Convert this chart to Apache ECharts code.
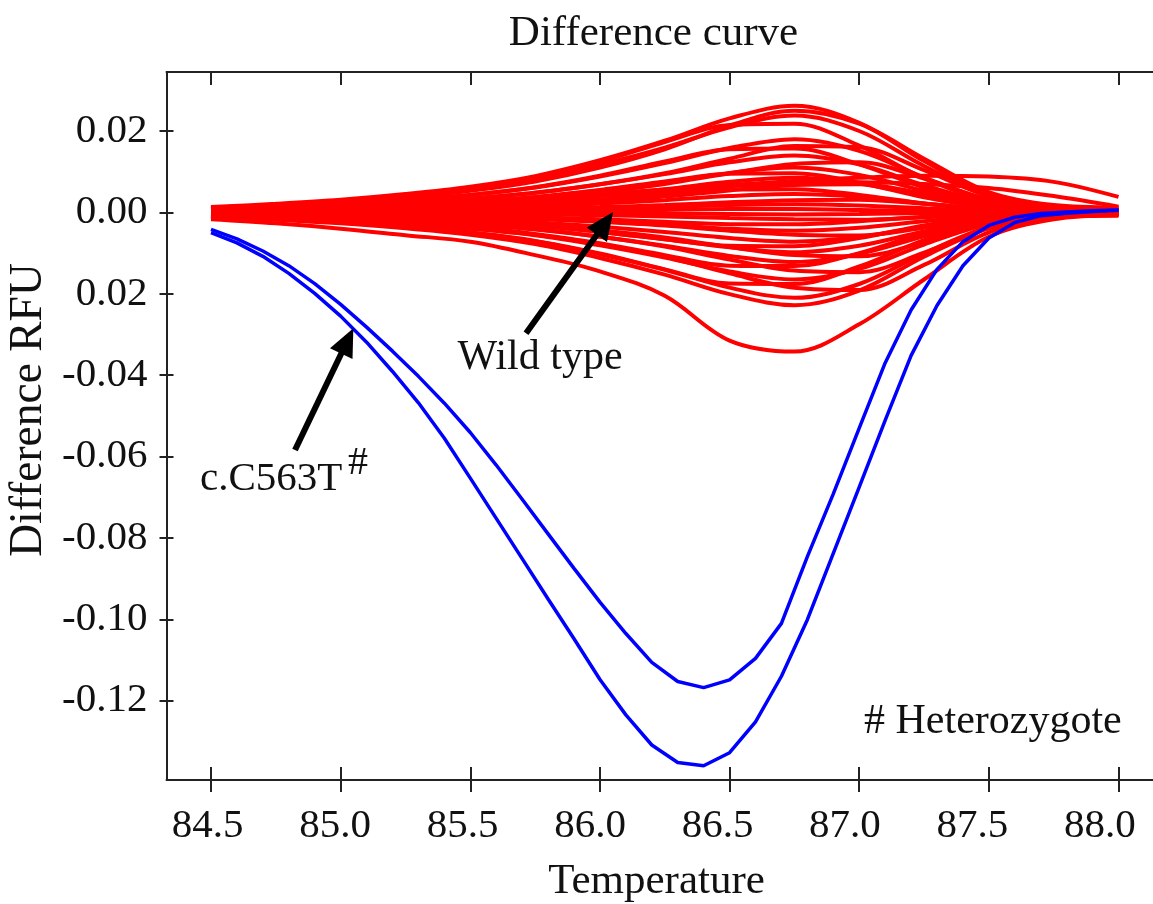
<!DOCTYPE html>
<html>
<head>
<meta charset="utf-8">
<title>Difference curve</title>
<script src="https://cdn.jsdelivr.net/npm/echarts@6/dist/echarts.min.js"></script>
<style>
  html, body { margin: 0; padding: 0; background: #ffffff; }
  #chart { width: 1153px; height: 904px; }
</style>
</head>
<body>
<div id="chart"></div>
<script>
// HRM difference plot: wild-type traces (red) and the c.C563T heterozygote traces (blue).

// Temperatures (°C) at which the two mutant traces were sampled
const mutantTemps = [84.5, 84.6, 84.7, 84.8, 84.9, 85.0, 85.1, 85.2, 85.3, 85.4, 85.5, 85.6,
  85.7, 85.8, 85.9, 86.0, 86.1, 86.2, 86.3, 86.4, 86.5, 86.6, 86.7, 86.8,
  86.9, 87.0, 87.1, 87.2, 87.3, 87.4, 87.5, 87.6, 87.7, 87.8, 87.9, 88.0];

// c.C563T heterozygote, shallower trace
const mutantUpper = [-0.0042, -0.0065, -0.0095, -0.0131, -0.0175, -0.0226, -0.0282, -0.0341, -0.0403, -0.0469, -0.0541, -0.0621,
  -0.0705, -0.0790, -0.0875, -0.0958, -0.1035, -0.1106, -0.1153, -0.1168, -0.1149, -0.1096, -0.1010, -0.0846,
  -0.0692, -0.0530, -0.0370, -0.0240, -0.0140, -0.0072, -0.0032, -0.0012, -0.0003, 0.0001, 0.0004, 0.0006];

// c.C563T heterozygote, deeper trace
const mutantLower = [-0.0050, -0.0075, -0.0108, -0.0150, -0.0199, -0.0255, -0.0319, -0.0391, -0.0468, -0.0555, -0.0653, -0.0752,
  -0.0851, -0.0950, -0.1048, -0.1148, -0.1235, -0.1309, -0.1352, -0.1360, -0.1328, -0.1252, -0.1140, -0.1001,
  -0.0838, -0.0675, -0.0511, -0.0352, -0.0229, -0.0131, -0.0063, -0.0025, -0.0008, -0.0002, 0.0002, 0.0005];

// Temperatures (°C) at which the wild-type traces were sampled
const wildTemps = [84.5, 84.75, 85.0, 85.25, 85.5, 85.75, 86.0, 86.25, 86.5, 86.75, 87.0, 87.25, 87.5, 87.75, 88.0];

// Wild-type difference RFU, one row per sample
const wildTypeCurves = [
  [0.0013, 0.0021, 0.0031, 0.0045, 0.0063, 0.0089, 0.0128, 0.0176, 0.0231, 0.0262, 0.0220, 0.0126, 0.0045, 0.0013, 0.0005],
  [0.0011, 0.0018, 0.0026, 0.0037, 0.0053, 0.0076, 0.0110, 0.0155, 0.0213, 0.0250, 0.0218, 0.0132, 0.0050, 0.0018, 0.0012],
  [0.0012, 0.0019, 0.0029, 0.0040, 0.0057, 0.0081, 0.0117, 0.0159, 0.0209, 0.0238, 0.0200, 0.0114, 0.0040, 0.0012, 0.0005],
  [0.0011, 0.0018, 0.0029, 0.0042, 0.0060, 0.0087, 0.0124, 0.0173, 0.0215, 0.0218, 0.0164, 0.0084, 0.0027, 0.0007, 0.0002],
  [0.0009, 0.0014, 0.0022, 0.0031, 0.0043, 0.0061, 0.0088, 0.0121, 0.0158, 0.0180, 0.0151, 0.0086, 0.0031, 0.0009, 0.0004],
  [0.0007, 0.0012, 0.0017, 0.0024, 0.0034, 0.0048, 0.0069, 0.0096, 0.0132, 0.0163, 0.0160, 0.0104, 0.0040, 0.0014, 0.0010],
  [0.0008, 0.0013, 0.0021, 0.0030, 0.0043, 0.0062, 0.0090, 0.0125, 0.0155, 0.0157, 0.0118, 0.0061, 0.0019, 0.0005, 0.0002],
  [0.0007, 0.0011, 0.0017, 0.0024, 0.0034, 0.0048, 0.0069, 0.0094, 0.0123, 0.0140, 0.0118, 0.0067, 0.0024, 0.0007, 0.0003],
  [0.0005, 0.0009, 0.0013, 0.0018, 0.0025, 0.0035, 0.0050, 0.0070, 0.0096, 0.0119, 0.0123, 0.0083, 0.0031, 0.0009, 0.0003],
  [0.0006, 0.0009, 0.0013, 0.0019, 0.0026, 0.0037, 0.0054, 0.0074, 0.0097, 0.0110, 0.0092, 0.0053, 0.0019, 0.0006, 0.0002],
  [0.0005, 0.0008, 0.0013, 0.0019, 0.0026, 0.0038, 0.0055, 0.0076, 0.0095, 0.0096, 0.0073, 0.0037, 0.0012, 0.0003, 0.0001],
  [0.0008, 0.0011, 0.0015, 0.0020, 0.0027, 0.0035, 0.0045, 0.0056, 0.0067, 0.0077, 0.0085, 0.0090, 0.0088, 0.0075, 0.0038],
  [0.0004, 0.0007, 0.0010, 0.0014, 0.0020, 0.0029, 0.0042, 0.0057, 0.0075, 0.0085, 0.0071, 0.0041, 0.0014, 0.0004, 0.0001],
  [0.0006, 0.0009, 0.0012, 0.0016, 0.0022, 0.0030, 0.0040, 0.0052, 0.0064, 0.0072, 0.0074, 0.0070, 0.0060, 0.0040, 0.0014],
  [0.0003, 0.0005, 0.0007, 0.0010, 0.0014, 0.0020, 0.0028, 0.0039, 0.0054, 0.0067, 0.0069, 0.0046, 0.0018, 0.0005, 0.0001],
  [0.0003, 0.0005, 0.0008, 0.0011, 0.0016, 0.0023, 0.0032, 0.0045, 0.0056, 0.0057, 0.0043, 0.0022, 0.0007, 0.0002, 0.0000],
  [0.0002, 0.0004, 0.0005, 0.0008, 0.0011, 0.0015, 0.0022, 0.0030, 0.0040, 0.0045, 0.0038, 0.0022, 0.0008, 0.0002, 0.0001],
  [0.0001, 0.0002, 0.0003, 0.0004, 0.0006, 0.0009, 0.0013, 0.0018, 0.0025, 0.0030, 0.0031, 0.0021, 0.0008, 0.0002, 0.0001],
  [0.0001, 0.0002, 0.0002, 0.0003, 0.0005, 0.0007, 0.0010, 0.0013, 0.0018, 0.0020, 0.0017, 0.0010, 0.0003, 0.0001, 0.0000],
  [0.0000, 0.0001, 0.0001, 0.0002, 0.0002, 0.0003, 0.0004, 0.0006, 0.0008, 0.0008, 0.0006, 0.0003, 0.0001, 0.0000, 0.0000],
  [0.0000, 0.0000, -0.0001, -0.0001, -0.0001, -0.0002, -0.0002, -0.0003, -0.0004, -0.0005, -0.0004, -0.0002, -0.0001, 0.0000, 0.0000],
  [-0.0001, -0.0001, -0.0002, -0.0003, -0.0004, -0.0005, -0.0007, -0.0010, -0.0014, -0.0017, -0.0018, -0.0012, -0.0005, -0.0001, 0.0000],
  [-0.0002, -0.0002, -0.0004, -0.0006, -0.0008, -0.0012, -0.0017, -0.0023, -0.0029, -0.0029, -0.0022, -0.0011, -0.0004, -0.0001, 0.0000],
  [-0.0002, -0.0004, -0.0005, -0.0008, -0.0011, -0.0015, -0.0022, -0.0030, -0.0040, -0.0045, -0.0038, -0.0022, -0.0008, -0.0002, -0.0001],
  [-0.0002, -0.0004, -0.0006, -0.0008, -0.0012, -0.0016, -0.0023, -0.0032, -0.0045, -0.0055, -0.0057, -0.0038, -0.0015, -0.0004, -0.0001],
  [-0.0004, -0.0006, -0.0009, -0.0012, -0.0017, -0.0024, -0.0035, -0.0048, -0.0063, -0.0072, -0.0060, -0.0035, -0.0012, -0.0004, -0.0001],
  [-0.0004, -0.0007, -0.0011, -0.0016, -0.0023, -0.0033, -0.0048, -0.0066, -0.0082, -0.0083, -0.0063, -0.0032, -0.0010, -0.0003, -0.0001],
  [-0.0005, -0.0008, -0.0012, -0.0017, -0.0024, -0.0033, -0.0048, -0.0066, -0.0086, -0.0098, -0.0082, -0.0047, -0.0017, -0.0005, -0.0002],
  [-0.0004, -0.0008, -0.0011, -0.0015, -0.0022, -0.0031, -0.0044, -0.0062, -0.0085, -0.0105, -0.0108, -0.0073, -0.0028, -0.0008, -0.0002],
  [-0.0006, -0.0010, -0.0015, -0.0021, -0.0029, -0.0041, -0.0060, -0.0082, -0.0107, -0.0122, -0.0102, -0.0059, -0.0021, -0.0006, -0.0002],
  [-0.0007, -0.0011, -0.0018, -0.0026, -0.0036, -0.0053, -0.0076, -0.0105, -0.0131, -0.0132, -0.0100, -0.0051, -0.0016, -0.0004, -0.0001],
  [-0.0006, -0.0011, -0.0015, -0.0021, -0.0030, -0.0042, -0.0060, -0.0084, -0.0116, -0.0143, -0.0147, -0.0099, -0.0038, -0.0011, -0.0003],
  [-0.0008, -0.0013, -0.0020, -0.0028, -0.0040, -0.0056, -0.0081, -0.0111, -0.0145, -0.0165, -0.0139, -0.0079, -0.0028, -0.0008, -0.0003],
  [-0.0009, -0.0014, -0.0023, -0.0034, -0.0049, -0.0070, -0.0101, -0.0140, -0.0175, -0.0176, -0.0133, -0.0068, -0.0022, -0.0005, -0.0002],
  [-0.0008, -0.0014, -0.0020, -0.0027, -0.0039, -0.0055, -0.0078, -0.0109, -0.0150, -0.0185, -0.0191, -0.0129, -0.0049, -0.0014, -0.0006],
  [-0.0011, -0.0017, -0.0025, -0.0036, -0.0050, -0.0071, -0.0103, -0.0141, -0.0185, -0.0210, -0.0176, -0.0101, -0.0036, -0.0011, -0.0008],
  [-0.0011, -0.0018, -0.0027, -0.0039, -0.0055, -0.0078, -0.0112, -0.0153, -0.0201, -0.0228, -0.0192, -0.0109, -0.0039, -0.0011, -0.0005],
  [-0.0017, -0.0027, -0.0040, -0.0056, -0.0072, -0.0105, -0.0145, -0.0205, -0.0315, -0.0342, -0.0275, -0.0165, -0.0060, -0.0017, -0.0005]
];

// Axis ticks and their printed labels
const xTicks = [84.5, 85.0, 85.5, 86.0, 86.5, 87.0, 87.5, 88.0];
const xTickLabels = ['84.5', '85.0', '85.5', '86.0', '86.5', '87.0', '87.5', '88.0'];
const yTicks = [0.02, 0.00, -0.02, -0.04, -0.06, -0.08, -0.10, -0.12];
const yTickLabels = ['0.02', '0.00', '0.02', '-0.04', '-0.06', '-0.08', '-0.10', '-0.12'];

// Annotation arrows: [from, to] in (temperature, RFU)
const wildTypeArrow = [[85.715, -0.0297], [86.051, 0.0001]];
const mutantArrow = [[84.824, -0.0584], [85.049, -0.0285]];

// ---- layout & styling ----
const FONT = "'Liberation Serif', 'Times New Roman', 'DejaVu Serif', serif";
const AXIS_COLOR = '#222222';
const TEXT_COLOR = '#111111';
const X_RANGE = [84.3284, 88.133];
const Y_RANGE = [-0.1395, 0.0345];
// tick labels sit on a slightly narrower spacing than the ticks themselves
const X_LABEL_RANGE = [84.339, 88.208];

function labelFor(ticks, labels) {
  return function (value) {
    const i = ticks.findIndex(function (t) { return Math.abs(t - value) < 1e-9; });
    return i >= 0 ? labels[i] : '';
  };
}

const axisLineStyle = { color: AXIS_COLOR, width: 2 };

const chart = echarts.init(document.getElementById('chart'), null, { renderer: 'canvas' });

const series = [];
wildTypeCurves.forEach(function (curve, k) {
  series.push({
    name: 'Wild type ' + (k + 1),
    type: 'line',
    xAxisIndex: 0,
    yAxisIndex: 0,
    data: wildTemps.map(function (t, i) { return [t, curve[i]]; }),
    smooth: 0.35,
    showSymbol: false,
    symbol: 'none',
    silent: true,
    z: 2,
    lineStyle: { color: '#ff0000', width: 4 }
  });
});
[mutantUpper, mutantLower].forEach(function (curve, k) {
  series.push({
    name: 'c.C563T ' + (k + 1),
    type: 'line',
    xAxisIndex: 0,
    yAxisIndex: 0,
    data: mutantTemps.map(function (t, i) { return [t, curve[i]]; }),
    smooth: false,
    showSymbol: false,
    symbol: 'none',
    silent: true,
    z: 3,
    lineStyle: { color: '#0000ff', width: 3.5 }
  });
});

chart.setOption({
  animation: false,
  backgroundColor: '#ffffff',
  grid: {
    left: 166.5, top: 72, right: 0, bottom: 124,
    containLabel: false,
    outerBoundsMode: 'none'
  },
  xAxis: [
    { // bottom frame line with inward ticks
      type: 'value', position: 'bottom', min: X_RANGE[0], max: X_RANGE[1],
      axisLine: { show: true, onZero: false, lineStyle: axisLineStyle },
      axisTick: { show: true, inside: true, length: 13, customValues: xTicks, lineStyle: axisLineStyle },
      axisLabel: { show: false },
      splitLine: { show: false }
    },
    { // outward half of the crossing ticks
      type: 'value', position: 'bottom', min: X_RANGE[0], max: X_RANGE[1],
      axisLine: { show: false, onZero: false },
      axisTick: { show: true, inside: false, length: 12, customValues: xTicks, lineStyle: axisLineStyle },
      axisLabel: { show: false },
      splitLine: { show: false }
    },
    { // top frame line
      type: 'value', position: 'top', min: X_RANGE[0], max: X_RANGE[1],
      axisLine: { show: true, onZero: false, lineStyle: axisLineStyle },
      axisTick: { show: true, inside: true, length: 13, customValues: xTicks, lineStyle: axisLineStyle },
      axisLabel: { show: false },
      splitLine: { show: false }
    },
    { // temperature labels
      type: 'value', position: 'bottom', min: X_LABEL_RANGE[0], max: X_LABEL_RANGE[1],
      axisLine: { show: false, onZero: false },
      axisTick: { show: false },
      axisLabel: {
        show: true, customValues: xTicks, formatter: labelFor(xTicks, xTickLabels),
        margin: 26, fontSize: 41, fontFamily: FONT, color: TEXT_COLOR
      },
      splitLine: { show: false }
    }
  ],
  yAxis: [
    {
      type: 'value', position: 'left', min: Y_RANGE[0], max: Y_RANGE[1],
      axisLine: { show: true, onZero: false, lineStyle: axisLineStyle },
      axisTick: { show: true, inside: true, length: 7, customValues: yTicks, lineStyle: axisLineStyle },
      axisLabel: {
        show: true, customValues: yTicks, formatter: labelFor(yTicks, yTickLabels),
        margin: 19, fontSize: 41, fontFamily: FONT, color: TEXT_COLOR,
        padding: [0, 0, 12, 0]
      },
      splitLine: { show: false }
    },
    {
      type: 'value', position: 'left', min: Y_RANGE[0], max: Y_RANGE[1],
      axisLine: { show: false, onZero: false },
      axisTick: { show: true, inside: false, length: 7, customValues: yTicks, lineStyle: axisLineStyle },
      axisLabel: { show: false },
      splitLine: { show: false }
    }
  ],
  series: series
});

// Arrow built from a shaft and a triangular head, placed through the grid's scales
function arrowGraphics(fromTo) {
  const p0 = chart.convertToPixel({ xAxisIndex: 0, yAxisIndex: 0 }, fromTo[0]);
  const p1 = chart.convertToPixel({ xAxisIndex: 0, yAxisIndex: 0 }, fromTo[1]);
  const dx = p1[0] - p0[0], dy = p1[1] - p0[1];
  const len = Math.sqrt(dx * dx + dy * dy);
  const ux = dx / len, uy = dy / len;
  const headLen = 28, headHalf = 12.5;
  const bx = p1[0] - ux * headLen, by = p1[1] - uy * headLen;
  return [
    {
      type: 'line', silent: true, z: 20,
      shape: { x1: p0[0], y1: p0[1], x2: bx + ux * 4, y2: by + uy * 4 },
      style: { stroke: '#000000', lineWidth: 6, lineCap: 'butt' }
    },
    {
      type: 'polygon', silent: true, z: 20,
      shape: { points: [
        [p1[0], p1[1]],
        [bx - uy * headHalf, by + ux * headHalf],
        [bx + uy * headHalf, by - ux * headHalf]
      ] },
      style: { fill: '#000000' }
    }
  ];
}

function text(x, y, str, size, align, extra) {
  return Object.assign({
    type: 'text', x: x, y: y, silent: true, z: 30,
    style: {
      text: str, fontSize: size, fontFamily: FONT, fill: TEXT_COLOR,
      align: align, verticalAlign: 'middle'
    }
  }, extra || {});
}

chart.setOption({
  graphic: [
    text(653.5, 34, 'Difference curve', 43, 'center'),
    text(656.5, 882, 'Temperature', 43, 'center'),
    text(29, 410, 'Difference RFU', 45.5, 'center', { rotation: Math.PI / 2 }),
    text(540, 358, 'Wild type', 42, 'center'),
    text(200, 479, 'c.C563T', 41, 'left'),
    text(348, 463, '#', 40, 'left'),
    text(864, 722, '# Heterozygote', 42, 'left')
  ].concat(arrowGraphics(wildTypeArrow), arrowGraphics(mutantArrow))
});
</script>
</body>
</html>
